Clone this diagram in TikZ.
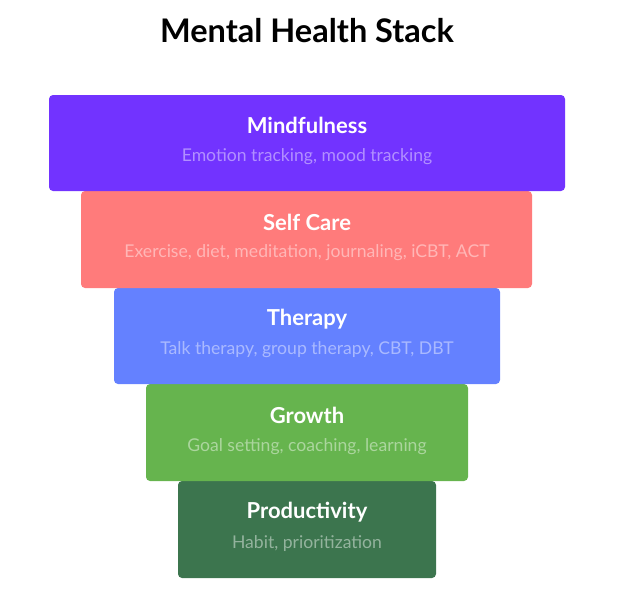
\documentclass[tikz,border=0pt]{standalone}
\usepackage{fontspec}
\setmainfont{Lato}
\definecolor{cMind}{HTML}{7233FF}
\definecolor{cSelf}{HTML}{FF7B7B}
\definecolor{cTher}{HTML}{6481FF}
\definecolor{cGrow}{HTML}{66B44E}
\definecolor{cProd}{HTML}{3C754E}
\tikzset{
  layer/.style={rounded corners=4pt, draw=none},
  head/.style={text=white, font=\fontsize{22}{26}\selectfont\bfseries, anchor=center, inner sep=0pt},
  sub/.style={text=white, text opacity=0.45, font=\fontsize{17.6}{21}\selectfont, anchor=center, inner sep=0pt},
}
\begin{document}
\begin{tikzpicture}[x=1pt,y=-1pt]
\useasboundingbox (0,0) rectangle (634,610);
\fill[layer, cProd] (178,481) rectangle (436,578);
\fill[layer, cGrow] (146,384) rectangle (468,481);
\fill[layer, cTher] (114,288) rectangle (500,384);
\fill[layer, cSelf] (81,191) rectangle (532,288);
\fill[layer, cMind] (49,95) rectangle (565,191);
\node[font=\fontsize{32.5}{36}\selectfont\bfseries, inner sep=0pt] (title) at (307,31) {Mental Health Stack};
\node[head] (h1) at (307,125) {Mindfulness};
\node[sub] (s1) at (307,157) {Emotion tracking, mood tracking};
\node[head] (h2) at (307,222) {Self Care};
\node[sub] (s2) at (307,253) {Exercise, diet, meditation, journaling, iCBT, ACT};
\node[head] (h3) at (307,319) {Therapy};
\node[sub] (s3) at (307,350) {Talk therapy, group therapy, CBT, DBT};
\node[head] (h4) at (307,415) {Growth};
\node[sub] (s4) at (307,447) {Goal setting, coaching, learning};
\node[head] (h5) at (307,512) {Productivity};
\node[sub] (s5) at (307,544) {Habit, prioritization};
\end{tikzpicture}
\end{document}
